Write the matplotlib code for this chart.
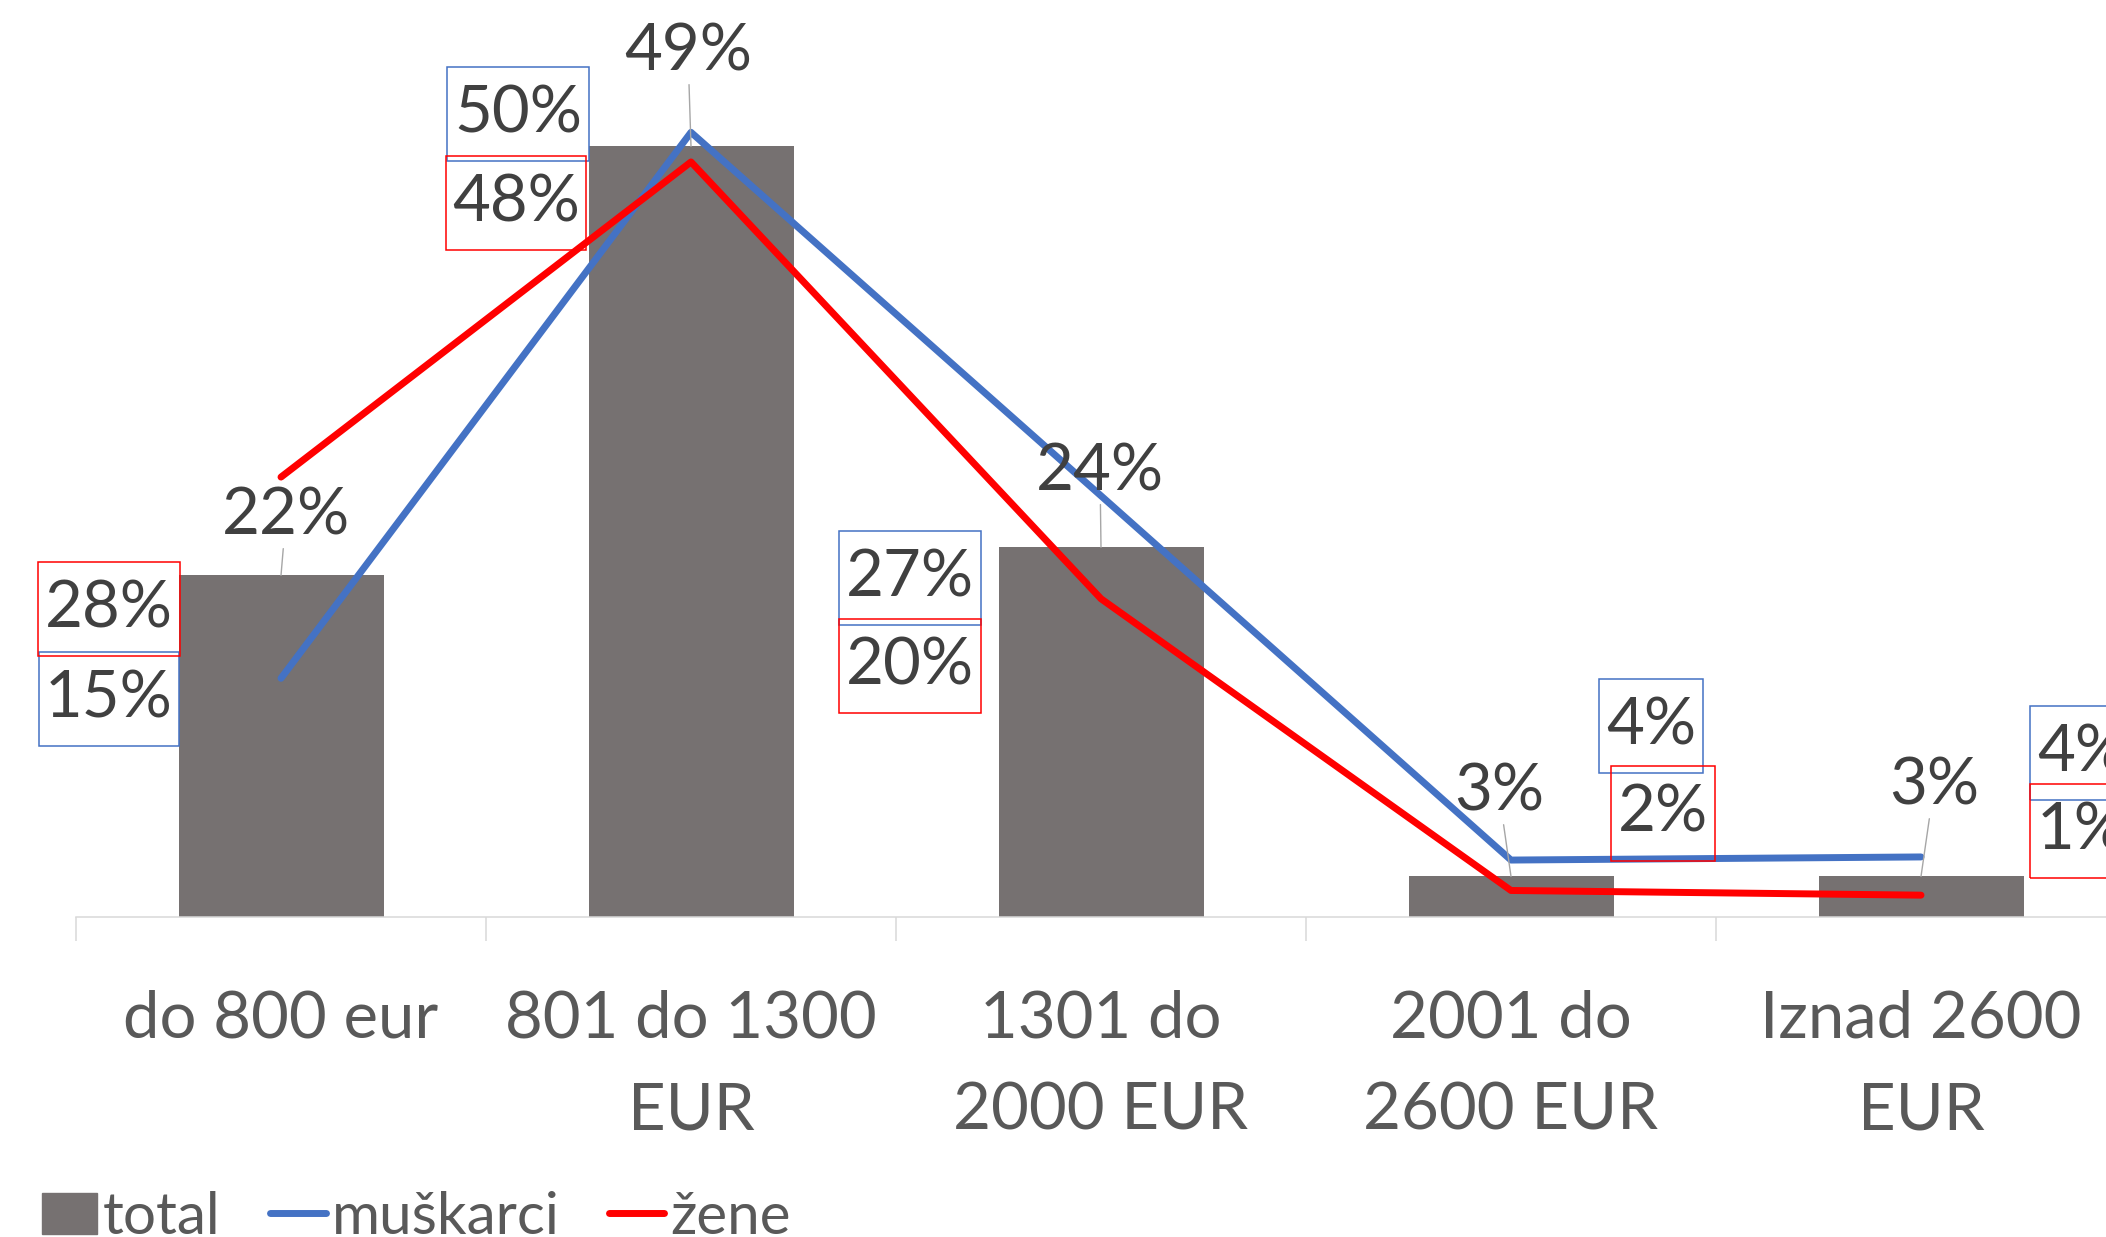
import matplotlib
matplotlib.use("Agg")
import matplotlib.pyplot as plt
from matplotlib.patches import Patch
from matplotlib.lines import Line2D
from matplotlib.path import Path

plt.rcParams["font.family"] = ["Lato", "DejaVu Sans"]

categories = ["do 800 eur", "801 do 1300\nEUR", "1301 do\n2000 EUR",
              "2001 do\n2600 EUR", "Iznad 2600\nEUR"]
total = [21.9, 49.4, 23.7, 2.6, 2.6]
muskarci = [15.3, 50.3, 27.0, 3.65, 3.85]
zene = [28.2, 48.4, 20.4, 1.7, 1.4]
legend_labels = ["total", "muškarci", "žene"]

# label offsets (pixels) from each point
total_off = [(5, 59), (-3, 94), (-1, 75), (-12, 84), (13, 90)]
musk_off = [(-172, -21), (-173, 18), (-191, -82), (140, 134), (161, 104)]
zene_off = [(-172, -132), (-175, -41), (-191, -67), (152, 77), (161, 64)]

GRAY = "#767171"
BLUE = "#4472C4"
RED = "#FF0000"


def label_box(x0, y0, width, height, mutation_size):
    # square box, more padding top/bottom than left/right
    px = 0.10 * mutation_size
    py = 0.27 * mutation_size
    x0, y0 = x0 - px, y0 - py
    x1, y1 = x0 + width + 2 * px, y0 + height + 2 * py
    return Path([(x0, y0), (x1, y0), (x1, y1), (x0, y1), (x0, y0)], closed=True)


W, H = 2106, 1237
fig = plt.figure(figsize=(W / 100, H / 100), dpi=100)
ax = fig.add_axes([76 / W, (H - 917) / H, 2050 / W, 917 / H])
ax.set_xlim(-0.5, 4.5)
ax.set_ylim(0, 917 / 15.6)

x = list(range(len(categories)))
ax.bar(x, total, width=0.5, color=GRAY, zorder=2)
ax.plot(x, muskarci, color=BLUE, lw=5, solid_capstyle="round", zorder=3)
ax.plot(x, zene, color=RED, lw=5, solid_capstyle="round", zorder=3)

for i, v in enumerate(total):
    ax.annotate(f"{v:.0f}%", xy=(i, v), xytext=total_off[i], textcoords="offset pixels",
                ha="center", va="center", fontsize=47, color="#404040",
                arrowprops=dict(arrowstyle="-", color="#A6A6A6", lw=1, shrinkA=0, shrinkB=0),
                zorder=5)

for vals, offs, col in [(muskarci, musk_off, BLUE), (zene, zene_off, RED)]:
    for i, v in enumerate(vals):
        ax.annotate(f"{v:.0f}%", xy=(i, v), xytext=offs[i], textcoords="offset pixels",
                    ha="center", va="center", fontsize=47, color="#404040",
                    bbox=dict(boxstyle=label_box, fc="none", ec=col, lw=1.1),
                    zorder=5, annotation_clip=False)

ax.set_xticks(x)
ax.set_xticklabels(categories, fontsize=47, color="#595959", linespacing=1.7)
ax.tick_params(axis="x", which="major", length=0, pad=52)
ax.set_xticks([i - 0.5 for i in range(len(categories) + 1)], minor=True)
ax.tick_params(axis="x", which="minor", length=17, width=1.1, color="#D9D9D9")
ax.set_yticks([])
for s in ["left", "right", "top"]:
    ax.spines[s].set_visible(False)
ax.spines["bottom"].set_color("#D9D9D9")
ax.spines["bottom"].set_linewidth(1.1)

handles = [Patch(color=GRAY),
           Line2D([], [], color=BLUE, lw=5, solid_capstyle="round"),
           Line2D([], [], color=RED, lw=5, solid_capstyle="round")]
fig.legend(handles, legend_labels, loc="center left", bbox_to_anchor=(42 / W, 1 - 1217 / H),
           ncol=3, frameon=False, fontsize=42, handlelength=0.95, handletextpad=0.1,
           columnspacing=0.85, borderpad=0, borderaxespad=0, labelcolor="#595959")

fig.savefig("out.png", dpi=100)
